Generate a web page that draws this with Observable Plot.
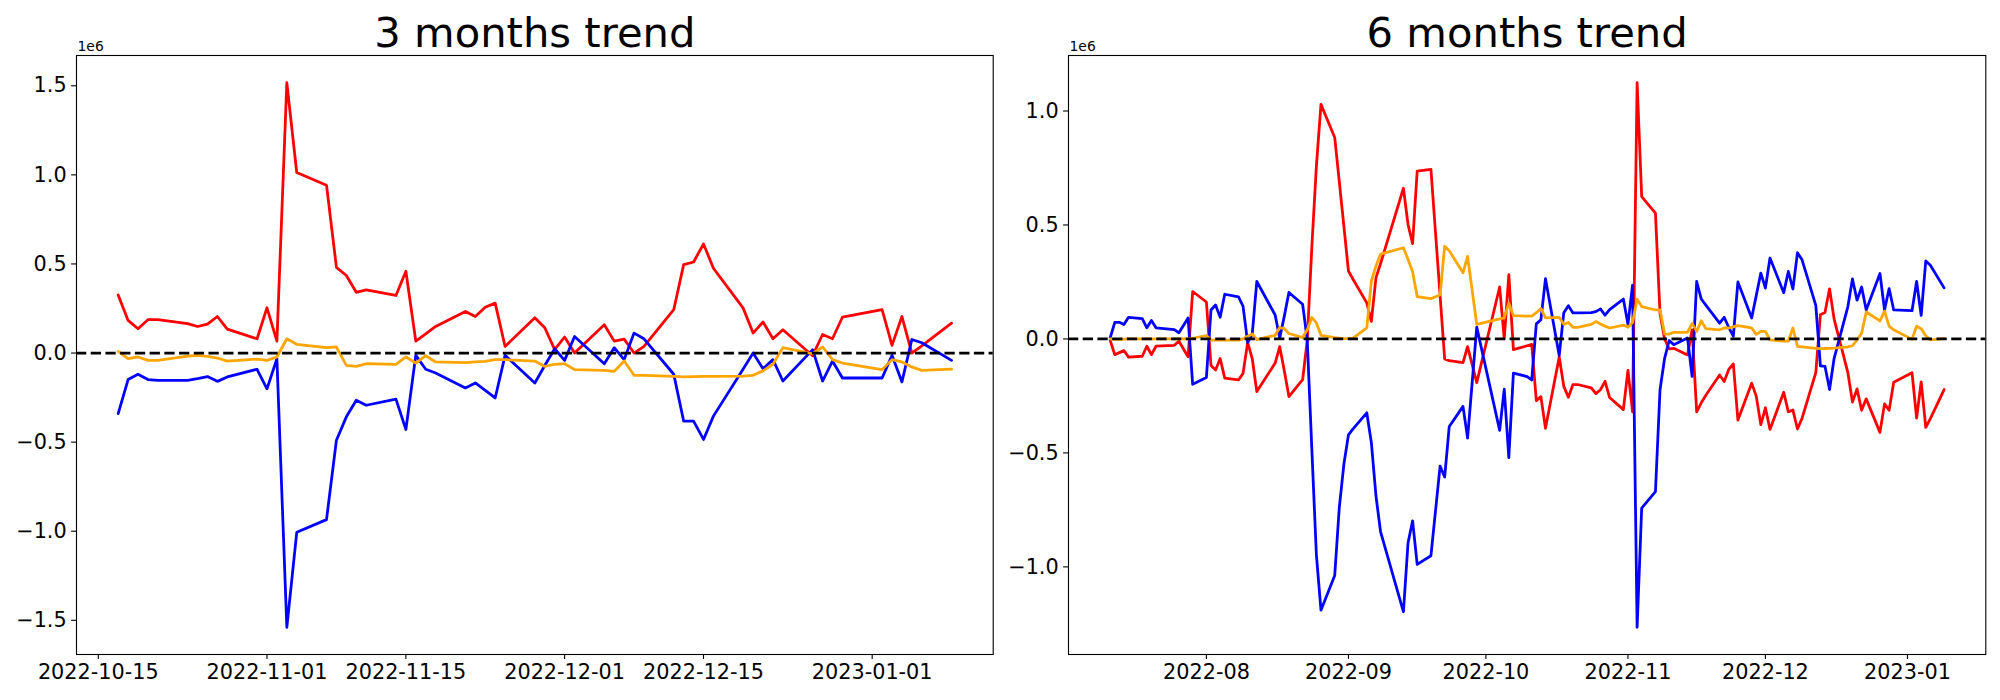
<!DOCTYPE html>
<html>
<head>
<meta charset="utf-8">
<script src="https://cdn.jsdelivr.net/npm/d3@7"></script>
<script src="https://cdn.jsdelivr.net/npm/@observablehq/plot@0.6"></script>
<style>
html, body { margin: 0; padding: 0; background: #fff; }
#wrap { position: relative; width: 2000px; height: 700px; overflow: hidden; background: #fff; }
.panel { position: absolute; top: 0; width: 1000px; height: 700px; }
</style>
</head>
<body>
<div id="wrap">
  <div class="panel" id="p1" style="left:0px"></div>
  <div class="panel" id="p2" style="left:1000px"></div>
</div>
<script>
// ---------- 3 months trend (values in units of 1e6) ----------
const dates3 = [
"2022-10-17","2022-10-18","2022-10-19","2022-10-20","2022-10-21","2022-10-24","2022-10-25","2022-10-26","2022-10-27","2022-10-28","2022-10-31",
"2022-11-01","2022-11-02","2022-11-03","2022-11-04","2022-11-07","2022-11-08","2022-11-09","2022-11-10","2022-11-11","2022-11-14","2022-11-15","2022-11-16","2022-11-17","2022-11-18","2022-11-21","2022-11-22","2022-11-23","2022-11-24","2022-11-25","2022-11-28","2022-11-29","2022-11-30",
"2022-12-01","2022-12-02","2022-12-05","2022-12-06","2022-12-07","2022-12-08","2022-12-09","2022-12-12","2022-12-13","2022-12-14","2022-12-15","2022-12-16","2022-12-19","2022-12-20","2022-12-21","2022-12-22","2022-12-23","2022-12-26","2022-12-27","2022-12-28","2022-12-29",
"2023-01-02","2023-01-03","2023-01-04","2023-01-05","2023-01-06","2023-01-09"];
const red3 = [
0.326,0.183,0.136,0.187,0.187,0.165,0.149,0.162,0.205,0.134,0.080,
0.254,0.067,1.517,1.013,0.942,0.481,0.435,0.341,0.354,0.323,0.459,0.067,0.108,0.149,0.233,0.205,0.257,0.280,0.037,0.198,0.142,0.019,
0.090,0.000,0.159,0.067,0.078,0.000,0.037,0.243,0.496,0.511,0.612,0.476,0.252,0.112,0.174,0.080,0.131,-0.015,0.104,0.080,0.201,
0.243,0.043,0.205,0.000,0.040,0.168];
const blue3 = [
-0.340,-0.149,-0.119,-0.149,-0.153,-0.153,-0.144,-0.132,-0.159,-0.134,-0.091,
-0.201,-0.032,-1.539,-1.006,-0.935,-0.489,-0.358,-0.265,-0.293,-0.259,-0.429,-0.013,-0.091,-0.112,-0.196,-0.168,-0.209,-0.252,-0.013,-0.168,-0.070,0.024,
-0.041,0.093,-0.060,0.030,-0.037,0.112,0.080,-0.119,-0.382,-0.382,-0.485,-0.354,-0.090,0.000,-0.088,-0.037,-0.157,0.019,-0.157,-0.045,-0.140,
-0.140,-0.013,-0.162,0.076,0.058,-0.041];
const orange3 = [
0.009,-0.032,-0.022,-0.041,-0.041,-0.017,-0.013,-0.019,-0.028,-0.045,-0.034,
-0.041,-0.022,0.080,0.049,0.030,0.034,-0.069,-0.075,-0.060,-0.063,-0.022,-0.056,-0.015,-0.050,-0.054,-0.049,-0.047,-0.037,-0.037,-0.045,-0.075,-0.063,
-0.060,-0.093,-0.097,-0.103,-0.045,-0.125,-0.125,-0.131,-0.134,-0.132,-0.131,-0.131,-0.130,-0.125,-0.100,-0.063,0.030,-0.004,0.034,-0.037,-0.056,
-0.093,-0.037,-0.050,-0.078,-0.097,-0.090];
const xTicks3 = ["2022-10-15","2022-11-01","2022-11-15","2022-12-01","2022-12-15","2023-01-01"];
const yTicks3 = [-1.5,-1.0,-0.5,0.0,0.5,1.0,1.5];

// ---------- 6 months trend (values in units of 1e6) ----------
const dates6 = [
"2022-07-11","2022-07-12","2022-07-13","2022-07-14","2022-07-15","2022-07-18","2022-07-19","2022-07-20","2022-07-21","2022-07-25","2022-07-26","2022-07-28","2022-07-29",
"2022-08-01","2022-08-02","2022-08-03","2022-08-04","2022-08-05","2022-08-08","2022-08-09","2022-08-10","2022-08-11","2022-08-12","2022-08-16","2022-08-17","2022-08-18","2022-08-19","2022-08-22","2022-08-23","2022-08-24","2022-08-25","2022-08-26","2022-08-29","2022-08-30","2022-08-31",
"2022-09-01","2022-09-02","2022-09-05","2022-09-06","2022-09-07","2022-09-08","2022-09-13","2022-09-14","2022-09-15","2022-09-16","2022-09-19","2022-09-21","2022-09-22","2022-09-23","2022-09-26","2022-09-27","2022-09-29",
"2022-10-04","2022-10-05","2022-10-06","2022-10-07","2022-10-10","2022-10-11","2022-10-12","2022-10-13","2022-10-14","2022-10-17","2022-10-18","2022-10-19","2022-10-20","2022-10-21","2022-10-24","2022-10-25","2022-10-26","2022-10-27","2022-10-28","2022-10-31",
"2022-11-01","2022-11-02","2022-11-03","2022-11-04","2022-11-07","2022-11-08","2022-11-09","2022-11-10","2022-11-11","2022-11-14","2022-11-15","2022-11-16","2022-11-17","2022-11-18","2022-11-21","2022-11-22","2022-11-23","2022-11-24","2022-11-25","2022-11-28","2022-11-29","2022-11-30",
"2022-12-01","2022-12-02","2022-12-05","2022-12-06","2022-12-07","2022-12-08","2022-12-09","2022-12-12","2022-12-13","2022-12-14","2022-12-15","2022-12-16","2022-12-19","2022-12-20","2022-12-21","2022-12-22","2022-12-23","2022-12-26","2022-12-27","2022-12-28","2022-12-29",
"2023-01-02","2023-01-03","2023-01-04","2023-01-05","2023-01-06","2023-01-09"];
const red6 = [
-0.007,-0.069,-0.060,-0.051,-0.080,-0.076,-0.032,-0.069,-0.032,-0.028,-0.010,-0.078,0.208,
0.162,-0.117,-0.136,-0.086,-0.172,-0.180,-0.151,-0.015,-0.086,-0.231,-0.106,-0.034,-0.140,-0.253,-0.179,-0.007,0.400,0.757,1.029,0.884,0.690,0.495,
0.298,0.262,0.158,0.077,0.268,0.330,0.661,0.502,0.418,0.736,0.744,0.190,-0.088,-0.095,-0.104,-0.034,-0.192,
0.228,0.000,0.282,-0.047,-0.030,-0.024,-0.271,-0.253,-0.392,-0.079,-0.208,-0.256,-0.200,-0.200,-0.215,-0.240,-0.223,-0.186,-0.257,-0.310,
-0.138,-0.320,1.124,0.624,0.552,0.110,0.000,-0.044,-0.041,-0.070,0.040,-0.320,-0.280,-0.247,-0.158,-0.187,-0.134,-0.110,-0.356,-0.194,-0.251,-0.376,
-0.302,-0.397,-0.234,-0.320,-0.312,-0.395,-0.348,-0.148,0.106,0.116,0.220,0.087,-0.148,-0.277,-0.219,-0.313,-0.263,-0.410,-0.285,-0.313,-0.190,
-0.148,-0.347,-0.188,-0.388,-0.350,-0.222];
const blue6 = [
0.005,0.073,0.073,0.063,0.095,0.089,0.049,0.081,0.049,0.041,0.027,0.092,-0.199,
-0.169,0.127,0.149,0.095,0.196,0.185,0.143,-0.016,0.020,0.252,0.105,0.003,0.100,0.204,0.152,-0.003,-0.480,-0.947,-1.190,-1.038,-0.740,-0.550,
-0.421,-0.395,-0.324,-0.455,-0.688,-0.845,-1.197,-0.895,-0.798,-0.989,-0.951,-0.558,-0.606,-0.384,-0.296,-0.435,0.052,
-0.401,-0.220,-0.521,-0.150,-0.165,-0.180,0.066,0.084,0.264,-0.073,0.115,0.146,0.114,0.114,0.115,0.120,0.132,0.104,0.129,0.175,
0.064,0.236,-1.265,-0.742,-0.670,-0.223,-0.085,-0.007,-0.025,0.004,-0.164,0.252,0.175,0.148,0.069,0.095,0.050,0.012,0.250,0.092,0.190,0.289,
0.223,0.355,0.203,0.296,0.219,0.378,0.347,0.147,-0.118,-0.120,-0.222,-0.085,0.142,0.263,0.170,0.228,0.127,0.287,0.127,0.221,0.127,
0.124,0.252,0.103,0.342,0.323,0.224];
const orange6 = [
0.000,-0.002,-0.002,-0.001,0.000,0.000,0.000,0.000,0.000,0.000,0.000,0.000,0.003,
0.015,-0.005,-0.005,-0.005,-0.005,-0.005,0.000,0.012,0.022,-0.003,0.016,0.050,0.045,0.024,0.006,0.040,0.094,0.070,0.016,0.006,0.004,0.001,
0.002,0.004,0.048,0.253,0.320,0.372,0.400,0.350,0.295,0.186,0.177,0.193,0.407,0.387,0.290,0.362,0.064,
0.088,0.092,0.157,0.102,0.100,0.100,0.115,0.134,0.092,0.095,0.064,0.072,0.051,0.051,0.064,0.076,0.066,0.056,0.048,0.061,
0.051,0.072,0.174,0.142,0.127,0.127,0.022,0.021,0.029,0.029,0.068,0.033,0.080,0.045,0.040,0.048,0.048,0.053,0.058,0.048,0.020,0.033,
0.033,-0.004,-0.010,-0.010,0.048,-0.033,-0.035,-0.041,-0.043,-0.042,-0.041,-0.040,-0.035,-0.030,-0.004,0.025,0.118,0.079,0.122,0.056,0.040,
-0.002,0.056,0.045,0.014,-0.004,0.001];
const xTicks6 = ["2022-08","2022-09","2022-10","2022-11","2022-12","2023-01"];
const yTicks6 = [-1.0,-0.5,0.0,0.5,1.0];

const titles = ["3 months trend", "6 months trend"];
const offsetLabel = "1e6";

// ---------- drawing ----------
const LW = 2.78;
function pad(ext, f) { const d = ext[1] - ext[0]; return [ext[0] - d * f, ext[1] + d * f]; }

function makeChart({dates, red, blue, orange, xTicks, xFmt, yTicks, title, marginLeft, marginRight}) {
  const rows = dates.map((d, i) => ({date: new Date(d + "T00:00:00Z"), red: red[i], blue: blue[i], orange: orange[i]}));
  const xd = pad(d3.extent(rows, r => +r.date), 0.05).map(t => new Date(t));
  const allY = rows.flatMap(r => [r.red, r.blue, r.orange]);
  const yd = pad(d3.extent(allY), 0.05);
  const parse = xFmt === "%Y-%m" ? d3.utcParse("%Y-%m") : d3.utcParse("%Y-%m-%d");
  return Plot.plot({
    width: 1000,
    height: 700,
    marginLeft, marginRight,
    marginTop: 55,
    marginBottom: 46,
    style: {fontFamily: "'DejaVu Sans', sans-serif", fontSize: "20.8px", background: "white", color: "black", overflow: "visible"},
    x: {type: "utc", domain: xd},
    y: {domain: yd},
    marks: [
      Plot.line(rows, {x: "date", y: "red", stroke: "#ff0000", strokeWidth: LW}),
      Plot.line(rows, {x: "date", y: "blue", stroke: "#0000ff", strokeWidth: LW}),
      Plot.line(rows, {x: "date", y: "orange", stroke: "#ffa500", strokeWidth: LW}),
      Plot.ruleY([0], {stroke: "black", strokeWidth: LW, strokeDasharray: "10.28,4.44"}),
      Plot.frame({stroke: "black", strokeWidth: 1.1}),
      Plot.axisX({ticks: xTicks.map(s => parse(s)), tickFormat: d3.utcFormat(xFmt), tickSize: 4.9, tickPadding: 4.9, label: null, strokeWidth: 1.1}),
      Plot.axisY({ticks: yTicks, tickFormat: d3.format(".1f"), tickSize: 4.9, tickPadding: 4.9, label: null, strokeWidth: 1.1}),
      Plot.text([title], {frameAnchor: "top", text: d => d, fontSize: 41.7, lineAnchor: "bottom", dy: -8.3, fill: "black"}),
      Plot.text([offsetLabel], {frameAnchor: "top-left", text: d => d, fontSize: 13.9, textAnchor: "start", lineAnchor: "bottom", dy: -4.6, dx: 1, fill: "black"})
    ]
  });
}

document.getElementById("p1").appendChild(makeChart({
  dates: dates3, red: red3, blue: blue3, orange: orange3,
  xTicks: xTicks3, xFmt: "%Y-%m-%d", yTicks: yTicks3, title: titles[0],
  marginLeft: 76, marginRight: 7.3
}));
document.getElementById("p2").appendChild(makeChart({
  dates: dates6, red: red6, blue: blue6, orange: orange6,
  xTicks: xTicks6, xFmt: "%Y-%m", yTicks: yTicks6, title: titles[1],
  marginLeft: 68, marginRight: 14.7
}));
</script>
</body>
</html>
